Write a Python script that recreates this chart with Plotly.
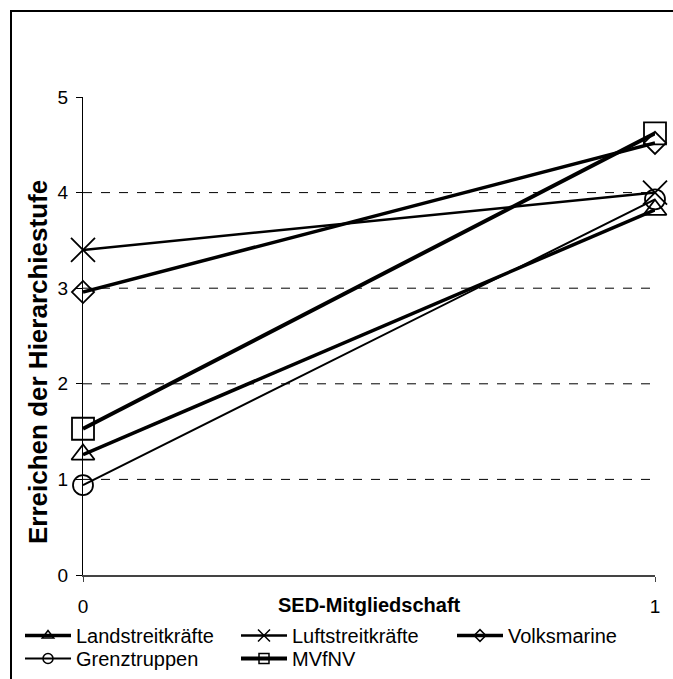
import plotly.graph_objects as go

# ---- data ----
x_vals = [0, 1]
series_names = ["Landstreitkräfte", "Luftstreitkräfte", "Volksmarine", "Grenztruppen", "MVfNV"]
landstreitkraefte = [1.26, 3.82]
luftstreitkraefte = [3.40, 4.00]
volksmarine = [2.96, 4.52]
grenztruppen = [0.94, 3.93]
mvfnv = [1.53, 4.62]
y_ticks = [0, 1, 2, 3, 4, 5]
x_ticks = [0, 1]
grid_vals = [1, 2, 3, 4]

values = [landstreitkraefte, luftstreitkraefte, volksmarine, grenztruppen, mvfnv]
symbols = ["triangle-up-open", "x-thin-open", "diamond-open", "circle-open", "square-open"]
line_widths = [3.5, 2.5, 3.5, 2, 4]
marker_sizes = [20, 24, 17, 20, 22]
legend_sizes = [10, 12, 9, 10, 10]
legend_rows = ["legend", "legend", "legend", "legend2", "legend2"]

W, H = 673, 679
L, R, T, B = 83, 18, 97, 104
pw, ph = W - L - R, H - T - B

fig = go.Figure()
for name, ys, sym, lw, ms in zip(series_names, values, symbols, line_widths, marker_sizes):
    fig.add_trace(go.Scatter(
        x=x_vals, y=ys, mode="lines+markers", name=name, showlegend=False,
        line=dict(color="black", width=lw),
        marker=dict(symbol=sym, size=ms, color="black", line=dict(color="black", width=1.8)),
        cliponaxis=False,
    ))
# legend entries (smaller markers as in the reference)
for name, sym, lw, ms, lg in zip(series_names, symbols, line_widths, legend_sizes, legend_rows):
    fig.add_trace(go.Scatter(
        x=[None], y=[None], mode="lines+markers", name=name, showlegend=True, legend=lg,
        line=dict(color="black", width=lw),
        marker=dict(symbol=sym, size=ms, color="black", line=dict(color="black", width=1.5)),
    ))

for v in grid_vals:
    fig.add_shape(type="line", xref="x", yref="y", x0=x_ticks[0], x1=x_ticks[-1], y0=v, y1=v,
                  line=dict(color="black", width=1, dash="dash"), layer="below")

# outer border (partially cropped in the reference)
fig.add_shape(type="rect", xref="paper", yref="paper",
              x0=(11 - L) / pw, x1=(W + 20 - L) / pw,
              y0=-(H + 20 - T - ph) / ph, y1=(H - B - 11) / ph,
              line=dict(color="black", width=2), fillcolor="rgba(0,0,0,0)")

font_family = "Liberation Sans, Arial, sans-serif"
legend_common = dict(orientation="h", xanchor="left", yanchor="top",
                     font=dict(size=20, family=font_family), entrywidth=155,
                     entrywidthmode="pixels", bgcolor="rgba(0,0,0,0)", itemwidth=46)

fig.update_layout(
    width=W, height=H,
    margin=dict(l=L, r=R, t=T, b=B, autoexpand=False),
    paper_bgcolor="white", plot_bgcolor="white",
    font=dict(family=font_family, color="black", size=16),
    xaxis=dict(range=[0, 1], tickvals=x_ticks, ticktext=[str(t) for t in x_ticks],
               showgrid=False, zeroline=False, showline=True, linecolor="#444444", linewidth=1.5,
               ticks="outside", ticklen=5, tickcolor="#444444", tickfont=dict(size=19),
               ticklabelstandoff=8, automargin=False),
    yaxis=dict(range=[0, 5], tickvals=y_ticks, showgrid=False, zeroline=False,
               showline=True, linecolor="black", linewidth=1,
               ticks="outside", ticklen=6, tickcolor="black", tickfont=dict(size=19),
               ticklabelstandoff=4, automargin=False),
    showlegend=True,
    legend=dict(x=(20 - L) / pw, y=-(616 - T - ph) / ph, **legend_common),
    legend2=dict(x=(20 - L) / pw, y=-(639 - T - ph) / ph, **legend_common),
    annotations=[
        dict(text="<b>SED-Mitgliedschaft</b>", xref="paper", yref="paper", x=0.5,
             y=-(605 - T - ph) / ph, xanchor="center", yanchor="middle", showarrow=False,
             font=dict(size=20, family=font_family)),
        dict(text="<b>Erreichen der Hierarchiestufe</b>", xref="paper", yref="paper",
             x=(38 - L) / pw, y=(H - B - 362) / ph, xanchor="center", yanchor="middle",
             textangle=-90, showarrow=False, font=dict(size=26, family=font_family)),
    ],
)

fig.write_html("out.html", config={"displayModeBar": False},
               post_script="document.body.style.margin='0';document.body.style.padding='0';"
                           "document.body.style.overflow='hidden';")
